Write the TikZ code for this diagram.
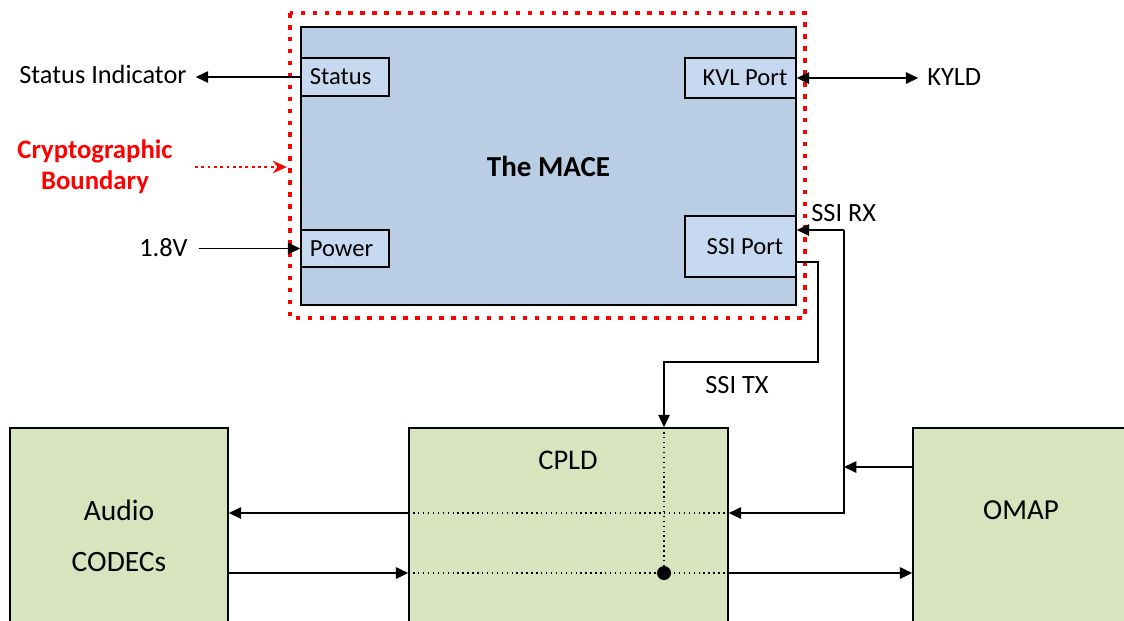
\documentclass[tikz,border=0pt]{standalone}
\usepackage{fontspec}
\setmainfont{Carlito}
\usetikzlibrary{arrows.meta,positioning}
\definecolor{maceblue}{HTML}{B9CDE5}
\definecolor{portblue}{HTML}{C6D9F1}
\definecolor{chipgreen}{HTML}{D7E4BD}
\definecolor{boundred}{HTML}{FF0000}

\tikzset{
  >={Triangle[length=7pt,width=6.5pt]},
  mace/.style={draw, line width=0.9pt, fill=maceblue, font=\bfseries\fontsize{16.5}{20}\selectfont},
  port/.style={draw, line width=0.9pt, fill=portblue, inner sep=0pt, font=\fontsize{14}{17}\selectfont},
  block/.style={draw, line width=0.9pt, fill=chipgreen, align=center, font=\fontsize{16.8}{29}\selectfont},
  lbl/.style={inner sep=0pt, font=\fontsize{15}{18}\selectfont},
  sig/.style={line width=0.8pt, ->},
  bus/.style={line width=0.8pt, dotted},
  boundary/.style={boundred, line width=2.6pt, dash pattern=on 2.6pt off 4.2pt},
}

\begin{document}
\begin{tikzpicture}[x=0.02cm, y=-0.02cm]
\useasboundingbox (0,0) rectangle (1124,620);
\clip (0,0) rectangle (1124,620);

% the MACE module
\node[mace, minimum width=9.9cm, minimum height=5.56cm] (mace) at (548.5,166) {The MACE};
\node[port, minimum width=1.76cm, minimum height=0.76cm] (status) at (345,77) {\hspace*{-5pt}Status};
\node[port, minimum width=1.76cm, minimum height=0.74cm] (power) at (345,248.5) {\hspace*{-4pt}Power};
\node[port, minimum width=2.22cm, minimum height=0.8cm] (kvl) at (740.5,78) {KVL Port\hspace*{-5pt}};
\node[port, minimum width=2.22cm, minimum height=1.22cm] (ssi) at (740.5,246.5) {SSI Port\hspace*{-5pt}};
\draw[boundary] (290,13) rectangle (805,318);

% outside labels
\node[lbl, anchor=east] (indicator) at (187,74) {Status Indicator};
\node[lbl, anchor=east] (supply) at (188,248) {1.8V};
\node[lbl, anchor=west] (kyld) at (927,77) {KYLD};
\node[lbl, anchor=west] (rxlbl) at (811,213) {SSI RX};
\node[lbl] (txlbl) at (737,385) {SSI TX};
\node[inner sep=0pt, align=center, text=boundred, font=\bfseries\fontsize{15.2}{17.6}\selectfont] (cryptolbl) at (95,167) {Cryptographic\\Boundary};

% lower blocks
\node[block, minimum width=4.36cm, minimum height=4.32cm] (audio) at (119,536) {Audio\\CODECs};
\node[block, minimum width=6.38cm, minimum height=4.32cm] (cpld) at (568.5,536) {};
\node[block, minimum width=4.6cm, minimum height=4.32cm] (omap) at (1028,536) {};
\node[lbl, font=\fontsize{16.2}{19}\selectfont] (cpldlbl) at (568,460) {CPLD};
\node[lbl, font=\fontsize{16.5}{19}\selectfont] (omaplbl) at (1021,510) {OMAP};

\coordinate (rxbus) at (844,230);
\coordinate (row1) at (0,513);
\coordinate (row2) at (0,573);
\coordinate (txbend) at (818,362);
\coordinate (txdrop) at (664,0);

% signals
\draw[sig, shorten >=5pt] (status.west) -- (indicator.east |- status.west);
\draw[sig, shorten <=6pt] (supply.east |- power.west) -- (power.west);
\draw[sig, <->, shorten >=5pt] (kvl.east) -- (kyld.west |- kvl.east);
\draw[boundred, line width=1.6pt, dotted, -{Stealth[length=8pt,width=7pt]}, shorten <=12.5pt]
  (cryptolbl.east) -- ++(114,0);

\draw[sig] (rxbus) -- (ssi.east |- rxbus);
\draw[sig] (rxbus) |- (cpld.east |- row1);
\draw[sig] (omap.west |- 0,467) -- (rxbus |- 0,467);
\draw[sig, line width=0.6pt] (ssi.east |- 0,262) -| (txbend) -| (txdrop |- cpld.north);

\draw[sig] (cpld.west |- row1) -- (audio.east |- row1);
\draw[sig] (audio.east |- row2) -- (cpld.west |- row2);
\draw[sig] (cpld.east |- row2) -- (omap.west |- row2);

% paths inside the CPLD
\draw[bus] (cpld.west |- row1) -- (cpld.east |- row1);
\draw[bus] (cpld.west |- row2) -- (cpld.east |- row2);
\draw[bus] (txdrop |- cpld.north) -- (txdrop |- row2);
\fill (txdrop |- row2) circle[radius=0.14cm];
\end{tikzpicture}
\end{document}
